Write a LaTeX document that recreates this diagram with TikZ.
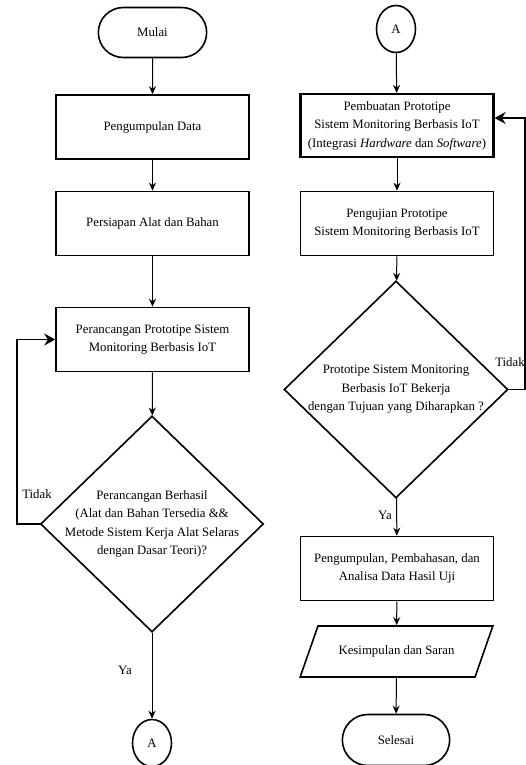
\documentclass[tikz,border=0pt]{standalone}
\usepackage{fontspec}
\setmainfont{Liberation Serif}
\usetikzlibrary{arrows.meta,positioning,shapes.geometric,shapes.misc}

\begin{document}
\begin{tikzpicture}[
  x=1pt, y=-1pt,
  font=\fontsize{12.8}{18.5}\selectfont,
  box/.style={draw, line width=1.6pt, minimum width=193pt, minimum height=64pt,
              align=center, inner sep=2pt},
  term/.style={draw, line width=1.6pt, rounded rectangle, minimum width=115pt,
               minimum height=50pt},
  conn/.style={draw, line width=1.6pt, ellipse, minimum width=39pt,
               minimum height=47pt, inner sep=0pt},
  dec/.style={draw, line width=1.6pt, diamond, minimum width=223pt,
              minimum height=216pt, inner sep=0pt},
  dtext/.style={align=center, inner sep=0pt},
  io/.style={draw, line width=1.6pt, trapezium, trapezium left angle=49,
             trapezium right angle=131, trapezium stretches=true,
             minimum width=193pt, minimum height=51pt, inner sep=2pt},
  fl/.style={-{Stealth[length=8pt, width=7pt]}, line width=1pt},
  fb/.style={-{Stealth[length=11pt, width=12pt]}, line width=1.6pt},
]
\useasboundingbox (0,0) rectangle (526,765);

% ---------- left column ----------
\node[term] (mulai) at (152.5,32.5) {Mulai};
\node[box] (b1) at (152.5,127) {Pengumpulan Data};
\node[box] (b2) at (152.5,223.5) {Persiapan Alat dan Bahan};
\node[box] (b3) at (152.5,339.5) {Perancangan Prototipe Sistem\\Monitoring Berbasis IoT};
\node[dec] (d1) at (152,524) {};
\node[dtext] (d1t) at (d1) {Perancangan Berhasil\\(Alat dan Bahan Tersedia \&\&\\Metode Sistem Kerja Alat Selaras\\dengan Dasar Teori)?};
\node[conn] (a1) at (152,743) {A};

\foreach \a/\b in {mulai/b1,b1/b2,b2/b3,b3/d1,d1/a1} \draw[fl] (\a) -- (\b);
\draw[fb] (d1.west) -- ++(-23,0) |- (b3.west);
\node (t1) at (37,494) {Tidak};
\node (y1) at (125,670) {Ya};

% ---------- right column ----------
\node[conn] (a2) at (396,29) {A};
\node[box, line width=2.2pt, minimum height=63pt] (p1) at (397,125.5)
  {Pembuatan Prototipe\\Sistem Monitoring Berbasis IoT\\(Integrasi \textit{Hardware} dan \textit{Software})};
\node[box] (p2) at (397,223.5) {Pengujian Prototipe\\Sistem Monitoring Berbasis IoT};
\node[dec, minimum width=224pt, minimum height=217pt] (d2) at (396,389.5) {};
\node[dtext] (d2t) at (d2) {Prototipe Sistem Monitoring\\Berbasis IoT Bekerja\\dengan Tujuan yang Diharapkan ?};
\node[box] (p3) at (397,568.5) {Pengumpulan, Pembahasan, dan\\Analisa Data Hasil Uji};
\node[io] (p4) at (396.5,651.5) {Kesimpulan dan Saran};
\node[term, minimum width=114pt, minimum height=51pt] (selesai) at (396,740) {Selesai};

\foreach \a/\b in {a2/p1,p1/p2,p2/d2,d2/p3,p3/p4,p4/selesai} \draw[fl] (\a) -- (\b);
\draw[fb] (d2.east) -- ++(16,0) |- ([yshift=7.5pt]p1.east);
\node (t2) at (510,362) {Tidak};
\node (y2) at (385,515) {Ya};

\end{tikzpicture}
\end{document}
